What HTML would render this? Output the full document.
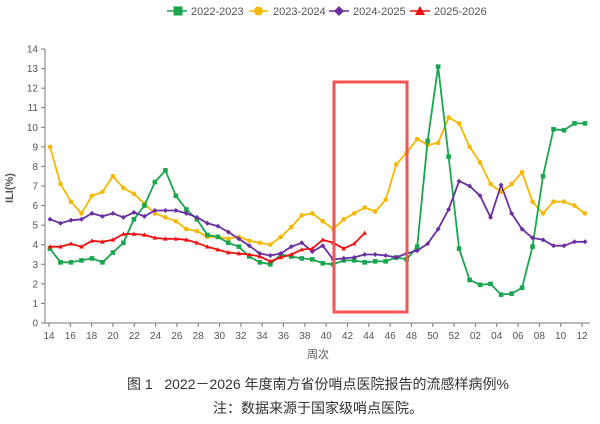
<!DOCTYPE html>
<html><head><meta charset="utf-8"><style>
html,body{margin:0;padding:0;background:#fff;}
body{width:600px;height:419px;overflow:hidden;font-family:"Liberation Sans","Noto Sans CJK SC",sans-serif;}
</style></head><body>
<svg id="s" width="600" height="419" xmlns="http://www.w3.org/2000/svg" font-family="Liberation Sans, Noto Sans CJK SC, sans-serif">
<g font-size="11" fill="#555">
<line x1="167" y1="11" x2="187" y2="11" stroke="#1aa64e" stroke-width="1.5"/><rect x="173.5" y="6.5" width="9" height="9" fill="#1aa64e"/>
<text x="191" y="15">2022-2023</text>
<line x1="249" y1="11" x2="268" y2="11" stroke="#f5b800" stroke-width="1.5"/><circle cx="258.5" cy="11" r="4.5" fill="#f5b800"/>
<text x="273" y="15">2023-2024</text>
<line x1="329" y1="11" x2="349" y2="11" stroke="#6a2fa0" stroke-width="1.5"/><path d="M339 6 L344 11 L339 16 L334 11Z" fill="#6a2fa0"/>
<text x="353" y="15">2024-2025</text>
<line x1="410" y1="11" x2="430" y2="11" stroke="#f01010" stroke-width="1.5"/><path d="M420 6 L425 15 L415 15Z" fill="#f01010"/>
<text x="434" y="15">2025-2026</text>
</g>
<g id="ax" stroke="#777" stroke-width="1" fill="none"></g>
<g id="lab" font-size="10" fill="#555"></g>
<text transform="translate(13,188) rotate(-90)" text-anchor="middle" font-size="11" fill="#555" font-weight="bold">ILI(%)</text>
<text x="318" y="358" text-anchor="middle" font-size="11" fill="#555">周次</text>
<g id="ser"></g>
<rect x="334" y="82" width="73" height="230" fill="none" stroke="#f55555" stroke-width="3"/>
<text x="318" y="389" text-anchor="middle" font-size="14" fill="#333">图 1&#160;&#160;&#160;2022－2026 年度南方省份哨点医院报告的流感样病例%</text>
<text x="318" y="413" text-anchor="middle" font-size="14" fill="#333">注：数据来源于国家级哨点医院。</text>
</svg>
<script>
var NS="http://www.w3.org/2000/svg",s=document.getElementById('s');
function el(p,t,a){var e=document.createElementNS(NS,t);for(var k in a)e.setAttribute(k,a[k]);p.appendChild(e);return e;}
var ax=document.getElementById('ax'),lab=document.getElementById('lab');
var Y0=323,U=19.57;
function Y(v){return Y0-v*U;}
el(ax,'line',{x1:45,y1:49,x2:45,y2:Y0});
el(ax,'line',{x1:45,y1:Y0,x2:590,y2:Y0});
for(var v=0;v<=14;v++){el(ax,'line',{x1:41,y1:Y(v),x2:45,y2:Y(v)});
 var t=el(lab,'text',{x:38,y:Y(v)+3.5,'text-anchor':'end'});t.textContent=v;}
var wk=[];for(var w=14;w<=52;w+=2)wk.push(w);for(w=2;w<=12;w+=2)wk.push(w);
for(var k=0;k<wk.length;k++){var x=49+k*21.32;
 el(ax,'line',{x1:x,y1:Y0,x2:x,y2:Y0+4});
 var t=el(lab,'text',{x:x,y:Y0+16,'text-anchor':'middle'});t.textContent=(wk[k]<10?'0':'')+wk[k];}
function X(i){return 50+i*10.49;}
var G=[3.8,3.1,3.1,3.2,3.3,3.1,3.6,4.1,5.3,6.0,7.2,7.8,6.5,5.8,5.3,4.5,4.4,4.1,3.9,3.4,3.1,3.0,3.5,3.4,3.3,3.25,3.05,3.0,3.2,3.2,3.1,3.15,3.15,3.35,3.25,3.9,9.3,13.1,8.5,3.8,2.2,1.95,2.0,1.45,1.5,1.8,3.9,7.5,9.9,9.85,10.2,10.2];
var Yl=[9.0,7.1,6.2,5.6,6.5,6.7,7.5,6.9,6.6,6.1,5.6,5.4,5.2,4.8,4.7,4.4,4.4,4.3,4.4,4.2,4.1,4.0,4.4,4.9,5.5,5.6,5.2,4.8,5.3,5.6,5.9,5.7,6.3,8.1,8.7,9.4,9.1,9.2,10.5,10.2,9.0,8.2,7.1,6.7,7.1,7.7,6.2,5.6,6.2,6.2,6.0,5.6];
var P=[5.3,5.1,5.25,5.3,5.6,5.45,5.6,5.4,5.65,5.45,5.75,5.75,5.75,5.6,5.4,5.1,4.95,4.65,4.3,3.95,3.55,3.45,3.55,3.9,4.1,3.65,3.95,3.25,3.3,3.35,3.5,3.5,3.45,3.35,3.55,3.7,4.05,4.8,5.8,7.25,7.0,6.5,5.4,7.05,5.6,4.8,4.35,4.25,3.95,3.95,4.15,4.15];
var R=[3.9,3.9,4.05,3.9,4.2,4.15,4.25,4.55,4.55,4.5,4.35,4.3,4.3,4.25,4.1,3.9,3.75,3.6,3.55,3.5,3.4,3.15,3.35,3.5,3.75,3.8,4.25,4.1,3.8,4.05,4.6];
var ser=document.getElementById('ser');
function draw(d,c,m){var pts=d.map(function(v,i){return X(i).toFixed(1)+','+Y(v).toFixed(1)}).join(' ');
 el(ser,'polyline',{points:pts,fill:'none',stroke:c,'stroke-width':1.8,'stroke-linejoin':'round'});
 d.forEach(function(v,i){var x=X(i),y=Y(v);
  if(m=='sq')el(ser,'rect',{x:x-2.3,y:y-2.3,width:4.6,height:4.6,fill:c});
  else if(m=='c')el(ser,'circle',{cx:x,cy:y,r:2.3,fill:c});
  else if(m=='d')el(ser,'path',{d:'M'+x+' '+(y-2.5)+'L'+(x+2.5)+' '+y+'L'+x+' '+(y+2.5)+'L'+(x-2.5)+' '+y+'Z',fill:c});
  else el(ser,'path',{d:'M'+x+' '+(y-2.5)+'L'+(x+2.3)+' '+(y+1.8)+'L'+(x-2.3)+' '+(y+1.8)+'Z',fill:c});});}
draw(Yl,'#f5b800','c');draw(G,'#1aa64e','sq');draw(P,'#6a2fa0','d');draw(R,'#f01010','t');
</script>
</body></html>
